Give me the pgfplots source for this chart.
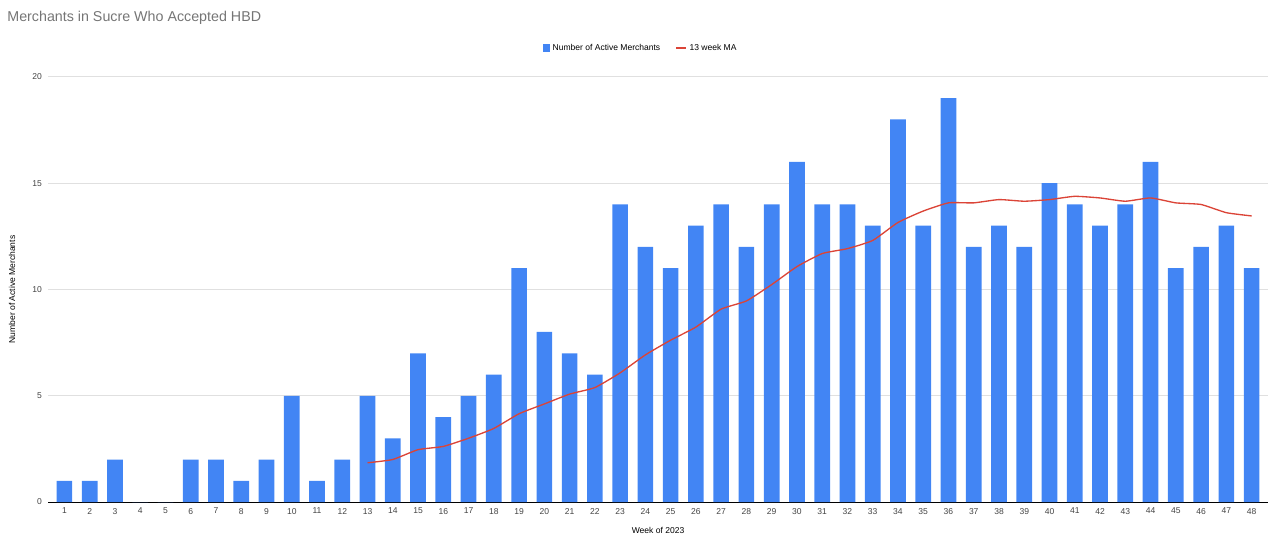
\documentclass[border=0pt]{standalone}
\usepackage{pgfplots}
\usepackage{pgfplotstable}
\pgfplotsset{compat=1.18}
\usepackage{fontspec}
\setmainfont{Liberation Sans}

\definecolor{barblue}{HTML}{4285F4}
\definecolor{mared}{HTML}{DB4437}
\definecolor{titlegray}{HTML}{757575}
\definecolor{gridgray}{HTML}{E0E0E0}
\definecolor{ticktext}{HTML}{444444}
\definecolor{baseline}{HTML}{555555}

% weekly counts
\pgfplotstableread{
week count
1 1
2 1
3 2
4 0
5 0
6 2
7 2
8 1
9 2
10 5
11 1
12 2
13 5
14 3
15 7
16 4
17 5
18 6
19 11
20 8
21 7
22 6
23 14
24 12
25 11
26 13
27 14
28 12
29 14
30 16
31 14
32 14
33 13
34 18
35 13
36 19
37 12
38 13
39 12
40 15
41 14
42 13
43 14
44 16
45 11
46 12
47 13
48 11
}\merchants

% 13 week moving average
\pgfplotstableread{
week ma
13 1.846
14 2.000
15 2.462
16 2.615
17 3.000
18 3.462
19 4.154
20 4.615
21 5.077
22 5.385
23 6.077
24 6.923
25 7.615
26 8.231
27 9.077
28 9.462
29 10.231
30 11.077
31 11.692
32 11.923
33 12.308
34 13.154
35 13.692
36 14.077
37 14.077
38 14.231
39 14.154
40 14.231
41 14.385
42 14.308
43 14.154
44 14.308
45 14.077
46 14.000
47 13.615
48 13.462
}\movavg

\begin{document}
\begin{tikzpicture}
  \path[use as bounding box] (-36pt,-27.75pt) rectangle (924pt,376.5pt);
  \node[anchor=west, font=\fontsize{10.7}{12}\selectfont, text=titlegray]
    at (-34pt,363.5pt) {Merchants in Sucre Who Accepted HBD};
  \begin{axis}[
      scale only axis,
      width=915pt, height=318.75pt,
      xmin=0.35, xmax=48.65,
      ymin=0, ymax=20,
      xtick={1,...,48},
      ytick={0,5,10,15,20},
      /pgf/number format/assume math mode=true,
      ymajorgrids=true,
      grid style={gridgray, line width=0.75pt},
      axis x line=bottom,
      axis y line=left,
      x axis line style={baseline, line width=0.6pt, -},
      y axis line style={draw=none},
      major tick length=0pt,
      tick label style={font=\fontsize{6.4}{7.5}\selectfont, text=ticktext},
      xticklabel style={yshift=-1pt},
      yticklabel style={xshift=-1pt},
      xlabel={Week of 2023},
      ylabel={Number of Active Merchants},
      label style={font=\fontsize{6.4}{7.5}\selectfont, text=black},
      xlabel style={at={(axis description cs:0.5,-0.068)}, anchor=center},
      ylabel style={at={(axis description cs:-0.0295,0.5)}, anchor=center},
      legend style={at={(axis description cs:0.486,1.068)}, anchor=center,
        draw=none, fill=none, legend columns=2,
        font=\fontsize{6.4}{7.5}\selectfont,
        /tikz/every even column/.append style={column sep=9pt}},
    ]
    \addplot[ybar, bar width=0.62, fill=barblue, draw=none,
      legend image code/.code={\fill[barblue] (0pt,-3pt) rectangle (5.5pt,3pt);}]
      table[x=week, y=count] {\merchants};
    \addlegendentry{Number of Active Merchants}
    \addplot[mared, line width=1pt, smooth, tension=0.3,
      legend image code/.code={\draw[mared, line width=2pt] (0pt,0pt) -- (7pt,0pt);}]
      table[x=week, y=ma] {\movavg};
    \addlegendentry{13 week MA}
  \end{axis}
\end{tikzpicture}
\end{document}
